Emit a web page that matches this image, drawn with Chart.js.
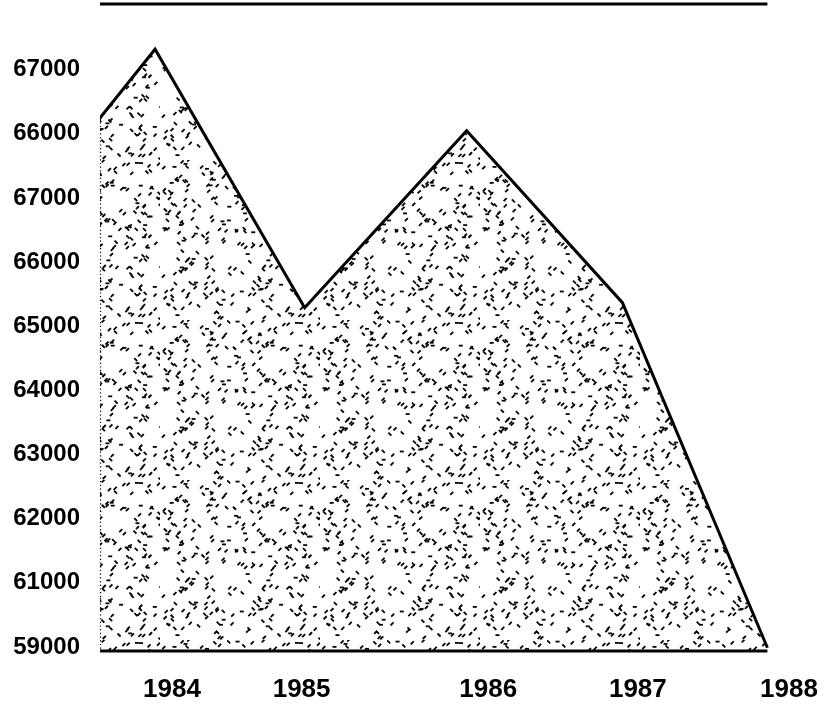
<!DOCTYPE html>
<html>
<head>
<meta charset="utf-8">
<script src="https://cdn.jsdelivr.net/npm/chart.js@4"></script>
<style>
  html, body { margin: 0; padding: 0; background: #fff; }
</style>
</head>
<body>
<canvas id="mychart" width="823" height="711"></canvas>
<script>
// values (x in years, y on the axis' own scale)
let years = [1983.53, 1983.89, 1984.86, 1985.91, 1986.92, 1987.86];
let values = [67300, 68380, 64350, 67110, 64430, 59050];

// y ticks are evenly spaced, but the printed labels are what the scan shows
let yTickVals = [59000, 60000, 61000, 62000, 63000, 64000, 65000, 66000, 67000, 68000];
let yTickLabels = ["59000", "61000", "62000", "63000", "64000", "65000", "66000", "67000", "66000", "67000"];

// x labels sit where the scan prints them
let xTickVals = [1984, 1984.84, 1986.05, 1987.02, 1988];
let xTickLabels = ["1984", "1985", "1986", "1987", "1988"];

// stipple texture like the print
function stipple() {
  let c = document.createElement("canvas");
  c.width = 160;
  c.height = 160;
  let g = c.getContext("2d");
  g.fillStyle = "#fff";
  g.fillRect(0, 0, 160, 160);
  g.strokeStyle = "#000";
  g.lineWidth = 1.8;
  g.lineCap = "butt";
  let seed = 11;
  let next = () => {
    seed = (seed * 1103515245 + 12345) % 2147483648;
    return seed / 2147483648;
  };
  for (let i = 0; i < 320; i++) {
    let x = next() * 160;
    let y = next() * 160;
    let k = next();
    let dx = 3, dy = -3;
    if (k < 0.3) { dx = 3; dy = 3; }
    else if (k < 0.5) { dx = 4; dy = 0; }
    g.beginPath();
    g.moveTo(x, y);
    g.lineTo(x + dx, y + dy);
    g.stroke();
  }
  return g.createPattern(c, "repeat");
}

let frame = {
  id: "frame",
  afterDatasetsDraw(chart) {
    let ctx = chart.ctx;
    let a = chart.chartArea;
    let pts = chart.getDatasetMeta(0).data;
    let first = pts[0];
    let last = pts[pts.length - 1];
    ctx.save();
    ctx.strokeStyle = "#000";
    ctx.lineWidth = 3;
    ctx.beginPath();
    ctx.moveTo(a.left, a.top + 1);
    ctx.lineTo(last.x, a.top + 1);
    ctx.moveTo(a.left, a.bottom);
    ctx.lineTo(last.x, a.bottom);
    ctx.stroke();
    ctx.lineWidth = 1.2;
    ctx.setLineDash([1.2, 2.5]);
    ctx.beginPath();
    ctx.moveTo(first.x + 1, first.y);
    ctx.lineTo(first.x + 1, a.bottom);
    ctx.stroke();
    ctx.restore();
  }
};

let noPad = (s) => {
  s.paddingTop = 0;
  s.paddingBottom = 0;
  s.paddingLeft = 0;
  s.paddingRight = 0;
};

let chart = new Chart(document.getElementById("mychart"), {
  type: "line",
  data: {
    datasets: [
      {
        data: years.map((y, i) => ({ x: y, y: values[i] })),
        borderColor: "#000",
        borderWidth: 3,
        backgroundColor: stipple(),
        fill: "start",
        pointRadius: 0,
        tension: 0,
      },
    ],
  },
  options: {
    responsive: false,
    animation: false,
    layout: { autoPadding: false, padding: { left: 6, right: 34, top: 3, bottom: 0 } },
    plugins: { legend: { display: false }, tooltip: { enabled: false } },
    scales: {
      x: {
        type: "linear",
        min: 1983.533,
        max: 1988,
        afterBuildTicks: (s) => { s.ticks = xTickVals.map((v) => ({ value: v })); },
        afterFit: (s) => { s.height = 60; noPad(s); },
        grid: { display: false, drawTicks: false },
        border: { display: false },
        ticks: {
          autoSkip: false,
          maxRotation: 0,
          padding: 23,
          color: "#000",
          font: { family: "'Liberation Sans', Arial, sans-serif", size: 26, weight: "bold" },
          callback: (v, i) => xTickLabels[i],
        },
      },
      y: {
        type: "linear",
        min: 59000,
        max: 69100,
        afterBuildTicks: (s) => { s.ticks = yTickVals.map((v) => ({ value: v })); },
        afterFit: (s) => { s.width = 94; noPad(s); },
        grid: { display: false, drawTicks: false },
        border: { display: false },
        ticks: {
          padding: 20,
          labelOffset: -4,
          color: "#000",
          font: { family: "'Liberation Sans', Arial, sans-serif", size: 24, weight: "bold" },
          callback: (v, i) => yTickLabels[i],
        },
      },
    },
  },
  plugins: [frame],
});
</script>
</body>
</html>
